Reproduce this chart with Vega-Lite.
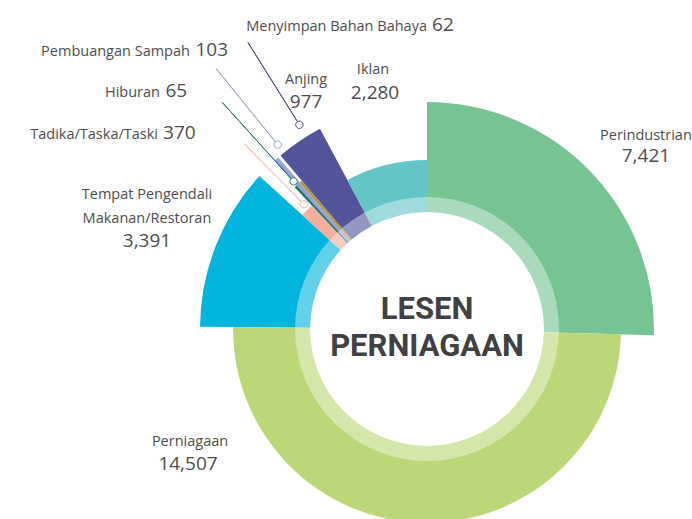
{
  "$schema": "https://vega.github.io/schema/vega-lite/v6.json",
  "width": 530,
  "height": 380,
  "autosize": {"type": "none"},
  "padding": {"left": 162, "top": 139, "right": 0, "bottom": 0},
  "background": "white",
  "config": {"view": {"stroke": null}},
  "datasets": {
    "lic": [
      {"rank": 1, "category": "Perindustrian", "label": "Perindustrian", "value": 7421},
      {"rank": 2, "category": "Perniagaan", "label": "Perniagaan", "value": 14507},
      {"rank": 3, "category": "Tempat Pengendali Makanan/Restoran", "label": "Tempat Pengendali\nMakanan/Restoran", "value": 3391},
      {"rank": 4, "category": "Tadika/Taska/Taski", "label": "Tadika/Taska/Taski", "value": 370},
      {"rank": 5, "category": "Hiburan", "label": "Hiburan", "value": 65},
      {"rank": 6, "category": "Pembuangan Sampah", "label": "Pembuangan Sampah", "value": 103},
      {"rank": 7, "category": "Menyimpan Bahan Bahaya", "label": "Menyimpan Bahan Bahaya", "value": 62},
      {"rank": 8, "category": "Anjing", "label": "Anjing", "value": 977},
      {"rank": 9, "category": "Iklan", "label": "Iklan", "value": 2280}
    ]
  },
  "layer": [
    {
      "data": {"name": "lic"},
      "transform": [
        {"stack": "value", "groupby": [], "sort": [{"field": "rank", "order": "ascending"}], "as": ["v0", "v1"]}
      ],
      "layer": [
        {
          "transform": [{"filter": {"field": "category", "oneOf": ["Perindustrian", "Tempat Pengendali Makanan/Restoran", "Pembuangan Sampah", "Anjing"]}}],
          "mark": {"type": "arc"},
          "encoding": {
            "theta": {"field": "v0", "type": "quantitative", "stack": null},
            "theta2": {"field": "v1"},
            "radius": {"value": 227},
            "radius2": {"value": 117},
            "color": {"field": "category", "type": "nominal", "legend": null,
              "scale": {"domain": ["Perindustrian", "Perniagaan", "Tempat Pengendali Makanan/Restoran", "Tadika/Taska/Taski", "Hiburan", "Pembuangan Sampah", "Menyimpan Bahan Bahaya", "Anjing", "Iklan"],
                        "range": ["#76c493", "#bbd777", "#00b4dc", "#f6af9d", "#2a7872", "#95a4d8", "#b0982a", "#53549c", "#64c5c7"]}}
          }
        },
        {
          "transform": [{"filter": {"field": "category", "oneOf": ["Perniagaan", "Hiburan", "Menyimpan Bahan Bahaya"]}}],
          "mark": {"type": "arc"},
          "encoding": {
            "theta": {"field": "v0", "type": "quantitative", "stack": null},
            "theta2": {"field": "v1"},
            "radius": {"value": 194},
            "radius2": {"value": 117},
            "color": {"field": "category", "type": "nominal", "legend": null}
          }
        },
        {
          "transform": [{"filter": {"field": "category", "oneOf": ["Tadika/Taska/Taski", "Iklan"]}}],
          "mark": {"type": "arc"},
          "encoding": {
            "theta": {"field": "v0", "type": "quantitative", "stack": null},
            "theta2": {"field": "v1"},
            "radius": {"value": 169},
            "radius2": {"value": 117},
            "color": {"field": "category", "type": "nominal", "legend": null}
          }
        },
        {
          "mark": {"type": "arc", "color": "white", "opacity": 0.38},
          "encoding": {
            "theta": {"field": "value", "aggregate": "sum", "type": "quantitative"},
            "radius": {"value": 132},
            "radius2": {"value": 117}
          }
        }
      ]
    },
    {
      "data": {"name": "lic"},
      "transform": [
        {"stack": "value", "groupby": [], "sort": [{"field": "rank", "order": "ascending"}], "as": ["v0", "v1"]},
        {"fold": ["v0", "v1"], "as": ["edge", "ang"]},
        {"aggregate": [{"op": "mean", "field": "ang", "as": "mid"}], "groupby": ["category", "label", "value"]}
      ],
      "layer": [
        {
          "transform": [{"filter": {"field": "category", "equal": "Perindustrian"}}],
          "mark": {"type": "text", "font": "Open Sans", "fontSize": 14.5, "color": "#4d4d4f", "align": "center", "baseline": "alphabetic", "dx": 12.1, "dy": 12.2},
          "encoding": {"theta": {"field": "mid", "type": "quantitative"}, "radius": {"value": 288.6}, "text": {"field": "label"}}
        },
        {
          "transform": [{"filter": {"field": "category", "equal": "Perindustrian"}}],
          "mark": {"type": "text", "font": "Open Sans", "fontSize": 19, "color": "#4d4d4f", "align": "center", "baseline": "alphabetic", "dx": 20.7, "dy": 25.9},
          "encoding": {"theta": {"field": "mid", "type": "quantitative"}, "radius": {"value": 276.6}, "text": {"field": "value", "type": "quantitative", "format": ","}}
        },
        {
          "transform": [{"filter": {"field": "category", "equal": "Iklan"}}],
          "mark": {"type": "text", "font": "Open Sans", "fontSize": 14.5, "color": "#4d4d4f", "align": "center", "baseline": "alphabetic", "dx": 9.1, "dy": -3.1},
          "encoding": {"theta": {"field": "mid", "type": "quantitative"}, "radius": {"value": 259.7}, "text": {"field": "label"}}
        },
        {
          "transform": [{"filter": {"field": "category", "equal": "Iklan"}}],
          "mark": {"type": "text", "font": "Open Sans", "fontSize": 19, "color": "#4d4d4f", "align": "center", "baseline": "alphabetic", "dx": 5.6, "dy": -0.8},
          "encoding": {"theta": {"field": "mid", "type": "quantitative"}, "radius": {"value": 236.8}, "text": {"field": "value", "type": "quantitative", "format": ","}}
        },
        {
          "transform": [{"filter": {"field": "category", "equal": "Anjing"}}],
          "mark": {"type": "text", "font": "Open Sans", "fontSize": 14.5, "color": "#4d4d4f", "align": "center", "baseline": "alphabetic", "dx": 32, "dy": -19.6},
          "encoding": {"theta": {"field": "mid", "type": "quantitative"}, "radius": {"value": 272.4}, "text": {"field": "label"}}
        },
        {
          "transform": [{"filter": {"field": "category", "equal": "Anjing"}}],
          "mark": {"type": "text", "font": "Open Sans", "fontSize": 19, "color": "#4d4d4f", "align": "center", "baseline": "alphabetic", "dx": 21, "dy": -11.8},
          "encoding": {"theta": {"field": "mid", "type": "quantitative"}, "radius": {"value": 252.8}, "text": {"field": "value", "type": "quantitative", "format": ","}}
        },
        {
          "transform": [{"filter": {"field": "category", "equal": "Tempat Pengendali Makanan/Restoran"}}],
          "mark": {"type": "text", "font": "Open Sans", "fontSize": 14.5, "color": "#4d4d4f", "align": "center", "baseline": "alphabetic", "lineBreak": "\n", "lineHeight": 24, "dx": 7.2, "dy": -17.4},
          "encoding": {"theta": {"field": "mid", "type": "quantitative"}, "radius": {"value": 308.7}, "text": {"field": "label"}}
        },
        {
          "transform": [{"filter": {"field": "category", "equal": "Tempat Pengendali Makanan/Restoran"}}],
          "mark": {"type": "text", "font": "Open Sans", "fontSize": 19, "color": "#4d4d4f", "align": "center", "baseline": "alphabetic", "dx": -8.3, "dy": 25},
          "encoding": {"theta": {"field": "mid", "type": "quantitative"}, "radius": {"value": 292.0}, "text": {"field": "value", "type": "quantitative", "format": ","}}
        },
        {
          "transform": [{"filter": {"field": "category", "equal": "Perniagaan"}}],
          "mark": {"type": "text", "font": "Open Sans", "fontSize": 14.5, "color": "#4d4d4f", "align": "center", "baseline": "alphabetic", "dx": -234.7, "dy": -5.4},
          "encoding": {"theta": {"field": "mid", "type": "quantitative"}, "radius": {"value": 122.4}, "text": {"field": "label"}}
        },
        {
          "transform": [{"filter": {"field": "category", "equal": "Perniagaan"}}],
          "mark": {"type": "text", "font": "Open Sans", "fontSize": 19, "color": "#4d4d4f", "align": "center", "baseline": "alphabetic", "dx": -236.3, "dy": -3.4},
          "encoding": {"theta": {"field": "mid", "type": "quantitative"}, "radius": {"value": 144.4}, "text": {"field": "value", "type": "quantitative", "format": ","}}
        },
        {
          "transform": [{"filter": {"field": "category", "equal": "Tadika/Taska/Taski"}}],
          "mark": {"type": "text", "font": "Open Sans", "fontSize": 14.5, "color": "#4d4d4f", "align": "right", "baseline": "alphabetic", "dx": -34.9, "dy": 41.6},
          "encoding": {"theta": {"field": "mid", "type": "quantitative"}, "radius": {"value": 329.3}, "text": {"field": "label"}}
        },
        {
          "transform": [{"filter": {"field": "category", "equal": "Tadika/Taska/Taski"}}],
          "mark": {"type": "text", "font": "Open Sans", "fontSize": 19, "color": "#4d4d4f", "align": "left", "baseline": "alphabetic", "dx": -32.7, "dy": 38.8},
          "encoding": {"theta": {"field": "mid", "type": "quantitative"}, "radius": {"value": 325.3}, "text": {"field": "value", "type": "quantitative", "format": ","}}
        },
        {
          "transform": [{"filter": {"field": "category", "equal": "Hiburan"}}],
          "mark": {"type": "text", "font": "Open Sans", "fontSize": 14.5, "color": "#4d4d4f", "align": "right", "baseline": "alphabetic", "dx": -27.5, "dy": 28.3},
          "encoding": {"theta": {"field": "mid", "type": "quantitative"}, "radius": {"value": 353.7}, "text": {"field": "label"}}
        },
        {
          "transform": [{"filter": {"field": "category", "equal": "Hiburan"}}],
          "mark": {"type": "text", "font": "Open Sans", "fontSize": 19, "color": "#4d4d4f", "align": "left", "baseline": "alphabetic", "dx": -24.8, "dy": 25.3},
          "encoding": {"theta": {"field": "mid", "type": "quantitative"}, "radius": {"value": 349.6}, "text": {"field": "value", "type": "quantitative", "format": ","}}
        },
        {
          "transform": [{"filter": {"field": "category", "equal": "Pembuangan Sampah"}}],
          "mark": {"type": "text", "font": "Open Sans", "fontSize": 14.5, "color": "#4d4d4f", "align": "right", "baseline": "alphabetic", "dx": 2.9, "dy": -2.6},
          "encoding": {"theta": {"field": "mid", "type": "quantitative"}, "radius": {"value": 361.5}, "text": {"field": "label"}}
        },
        {
          "transform": [{"filter": {"field": "category", "equal": "Pembuangan Sampah"}}],
          "mark": {"type": "text", "font": "Open Sans", "fontSize": 19, "color": "#4d4d4f", "align": "left", "baseline": "alphabetic", "dx": 6.0, "dy": -5.3},
          "encoding": {"theta": {"field": "mid", "type": "quantitative"}, "radius": {"value": 357.9}, "text": {"field": "value", "type": "quantitative", "format": ","}}
        },
        {
          "transform": [{"filter": {"field": "category", "equal": "Menyimpan Bahan Bahaya"}}],
          "mark": {"type": "text", "font": "Open Sans", "fontSize": 14.5, "color": "#4d4d4f", "align": "right", "baseline": "alphabetic", "dx": 193.8, "dy": -71.6},
          "encoding": {"theta": {"field": "mid", "type": "quantitative"}, "radius": {"value": 298}, "text": {"field": "label"}}
        },
        {
          "transform": [{"filter": {"field": "category", "equal": "Menyimpan Bahan Bahaya"}}],
          "mark": {"type": "text", "font": "Open Sans", "fontSize": 19, "color": "#4d4d4f", "align": "left", "baseline": "alphabetic", "dx": 198.9, "dy": -71.6},
          "encoding": {"theta": {"field": "mid", "type": "quantitative"}, "radius": {"value": 298}, "text": {"field": "value", "type": "quantitative", "format": ","}}
        },
        {
          "transform": [{"filter": {"field": "category", "equal": "Hiburan"}}],
          "mark": {"type": "arc", "filled": false, "color": "#2e7a73", "strokeWidth": 1, "thetaOffset": 0.00915, "theta2Offset": 0.00915},
          "encoding": {"theta": {"field": "mid", "type": "quantitative", "stack": null}, "theta2": {"field": "mid"}, "radius": {"value": 305.6}, "radius2": {"value": 202.7}}
        },
        {
          "transform": [{"filter": {"field": "category", "equal": "Tadika/Taska/Taski"}}],
          "mark": {"type": "arc", "filled": false, "color": "#f5b5a5", "strokeWidth": 1, "thetaOffset": 0.01204, "theta2Offset": 0.01204},
          "encoding": {"theta": {"field": "mid", "type": "quantitative", "stack": null}, "theta2": {"field": "mid"}, "radius": {"value": 260.4}, "radius2": {"value": 178.9}}
        },
        {
          "transform": [{"filter": {"field": "category", "equal": "Pembuangan Sampah"}}],
          "mark": {"type": "arc", "filled": false, "color": "#9aa6d8", "strokeWidth": 1, "thetaOffset": 0.0452, "theta2Offset": 0.0452},
          "encoding": {"theta": {"field": "mid", "type": "quantitative", "stack": null}, "theta2": {"field": "mid"}, "radius": {"value": 335}, "radius2": {"value": 240.9}}
        },
        {
          "transform": [{"filter": {"field": "category", "equal": "Menyimpan Bahan Bahaya"}}],
          "mark": {"type": "arc", "filled": false, "color": "#4e4c99", "strokeWidth": 1, "thetaOffset": 0.14957, "theta2Offset": 0.14957},
          "encoding": {"theta": {"field": "mid", "type": "quantitative", "stack": null}, "theta2": {"field": "mid"}, "radius": {"value": 338}, "radius2": {"value": 244.5}}
        },
        {
          "transform": [{"filter": {"field": "category", "equal": "Tadika/Taska/Taski"}}],
          "mark": {"type": "arc", "fill": "white", "stroke": "#f5b5a5", "strokeWidth": 1, "cornerRadius": 3.7, "thetaOffset": -0.00908, "theta2Offset": 0.03316},
          "encoding": {"theta": {"field": "mid", "type": "quantitative", "stack": null}, "theta2": {"field": "mid"}, "radius": {"value": 178.9}, "radius2": {"value": 171.5}}
        },
        {
          "transform": [{"filter": {"field": "category", "equal": "Hiburan"}}],
          "mark": {"type": "arc", "fill": "white", "stroke": "#2e7a73", "strokeWidth": 1, "cornerRadius": 3.7, "thetaOffset": -0.00944, "theta2Offset": 0.02774},
          "encoding": {"theta": {"field": "mid", "type": "quantitative", "stack": null}, "theta2": {"field": "mid"}, "radius": {"value": 202.7}, "radius2": {"value": 195.3}}
        },
        {
          "transform": [{"filter": {"field": "category", "equal": "Pembuangan Sampah"}}],
          "mark": {"type": "arc", "fill": "white", "stroke": "#9aa6d8", "strokeWidth": 1, "cornerRadius": 3.7, "thetaOffset": 0.0296, "theta2Offset": 0.0608},
          "encoding": {"theta": {"field": "mid", "type": "quantitative", "stack": null}, "theta2": {"field": "mid"}, "radius": {"value": 240.9}, "radius2": {"value": 233.5}}
        },
        {
          "transform": [{"filter": {"field": "category", "equal": "Menyimpan Bahan Bahaya"}}],
          "mark": {"type": "arc", "fill": "white", "stroke": "#4e4c99", "strokeWidth": 1, "cornerRadius": 3.7, "thetaOffset": 0.1342, "theta2Offset": 0.16494},
          "encoding": {"theta": {"field": "mid", "type": "quantitative", "stack": null}, "theta2": {"field": "mid"}, "radius": {"value": 244.5}, "radius2": {"value": 237.1}}
        }
      ]
    },
    {
      "data": {"values": [{"title": "LESEN\nPERNIAGAAN"}]},
      "mark": {"type": "text", "font": "Roboto", "fontWeight": "bold", "fontSize": 31, "color": "#414042", "align": "center", "baseline": "alphabetic", "lineBreak": "\n", "lineHeight": 37, "dy": -10},
      "encoding": {"text": {"field": "title"}}
    }
  ]
}
